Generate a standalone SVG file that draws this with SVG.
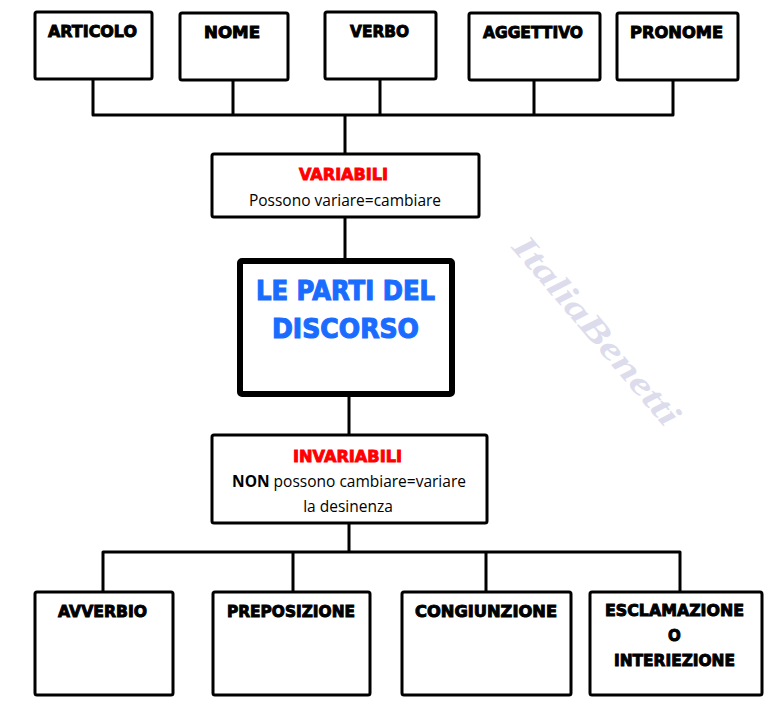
<svg xmlns="http://www.w3.org/2000/svg" width="778" height="708" viewBox="0 0 778 708">
<style>
.box{fill:#fff;stroke:#000;stroke-width:3}
.big{fill:#fff;stroke:#000;stroke-width:6}
.ln{fill:none;stroke:#000;stroke-width:3;stroke-linejoin:round}
.lbl{font-family:"DejaVu Sans","Liberation Sans",sans-serif;font-weight:bold;font-size:15px;fill:#000;stroke:#000;stroke-width:0.9;text-anchor:middle}
.red{font-family:"DejaVu Sans","Liberation Sans",sans-serif;font-weight:bold;font-size:16px;fill:#ff0000;stroke:#ff0000;stroke-width:0.9;text-anchor:middle}
.blue{font-family:"DejaVu Sans","Liberation Sans",sans-serif;font-weight:bold;font-size:27px;fill:#1a6cff;stroke:#1a6cff;stroke-width:1.2;text-anchor:middle}
.txt{font-family:"Open Sans","Noto Sans",sans-serif;font-size:15.5px;fill:#000;text-anchor:middle}
.wm{font-family:"Liberation Serif","DejaVu Serif",serif;font-style:italic;font-weight:bold;font-size:34px;fill:#dcdcec;text-anchor:middle}
</style>
<rect width="778" height="708" fill="#fff"/>
<text class="wm" transform="translate(588,338) rotate(49.5)" textLength="238" lengthAdjust="spacingAndGlyphs">ItaliaBenetti</text>
<g id="connectors">
<path class="ln" d="M93,79 V115 H673 V80 M233,80 V115 M380,79 V115 M534,80 V115 M345,115 V154"/>
<path class="ln" d="M345,217 V258"/>
<path class="ln" d="M349,397 V435"/>
<path class="ln" d="M349,523 V552 M103,592 V552 H680 V592 M293,552 V592 M486,552 V592"/>
</g>
<g id="articolo"><rect class="box" x="35" y="12" width="117" height="67" rx="2"/><text class="lbl" x="92.5" y="37" textLength="89" lengthAdjust="spacingAndGlyphs">ARTICOLO</text></g>
<g id="nome"><rect class="box" x="180" y="13" width="108" height="67" rx="2"/><text class="lbl" x="232" y="38" textLength="56" lengthAdjust="spacingAndGlyphs">NOME</text></g>
<g id="verbo"><rect class="box" x="325" y="12" width="111" height="67" rx="2"/><text class="lbl" x="379.5" y="37" textLength="59" lengthAdjust="spacingAndGlyphs">VERBO</text></g>
<g id="aggettivo"><rect class="box" x="469" y="13" width="131" height="67" rx="2"/><text class="lbl" x="533" y="38" textLength="100" lengthAdjust="spacingAndGlyphs">AGGETTIVO</text></g>
<g id="pronome"><rect class="box" x="617" y="13" width="121" height="67" rx="2"/><text class="lbl" x="676.5" y="38" textLength="93" lengthAdjust="spacingAndGlyphs">PRONOME</text></g>
<g id="variabili"><rect class="box" x="212" y="154" width="267" height="63" rx="2"/><text class="red" x="343.5" y="180" textLength="89" lengthAdjust="spacingAndGlyphs">VARIABILI</text><text class="txt" x="345" y="206">Possono variare=cambiare</text></g>
<g id="parti"><rect class="big" x="240" y="261" width="212" height="133" rx="2"/><text class="blue" x="345.5" y="300" textLength="179" lengthAdjust="spacingAndGlyphs">LE PARTI DEL</text><text class="blue" x="345.5" y="338" textLength="147" lengthAdjust="spacingAndGlyphs">DISCORSO</text></g>
<g id="invariabili"><rect class="box" x="212" y="435" width="275" height="88" rx="2"/><text class="red" x="347.5" y="462" textLength="109" lengthAdjust="spacingAndGlyphs">INVARIABILI</text><text class="txt" x="349" y="487"><tspan font-weight="bold">NON</tspan> possono cambiare=variare</text><text class="txt" x="348" y="512">la desinenza</text></g>
<g id="avverbio"><rect class="box" x="35" y="592" width="138" height="103" rx="2"/><text class="lbl" x="102.5" y="617" textLength="89" lengthAdjust="spacingAndGlyphs">AVVERBIO</text></g>
<g id="preposizione"><rect class="box" x="213" y="592" width="157" height="103" rx="2"/><text class="lbl" x="291" y="617" textLength="128" lengthAdjust="spacingAndGlyphs">PREPOSIZIONE</text></g>
<g id="congiunzione"><rect class="box" x="402" y="592" width="169" height="103" rx="2"/><text class="lbl" x="486" y="617" textLength="142" lengthAdjust="spacingAndGlyphs">CONGIUNZIONE</text></g>
<g id="esclamazione"><rect class="box" x="590" y="592" width="172" height="103" rx="2"/><text class="lbl" x="674.5" y="616" textLength="139" lengthAdjust="spacingAndGlyphs">ESCLAMAZIONE</text><text class="lbl" x="674.5" y="641">O</text><text class="lbl" x="674.5" y="666" textLength="121" lengthAdjust="spacingAndGlyphs">INTERIEZIONE</text></g>
</svg>
